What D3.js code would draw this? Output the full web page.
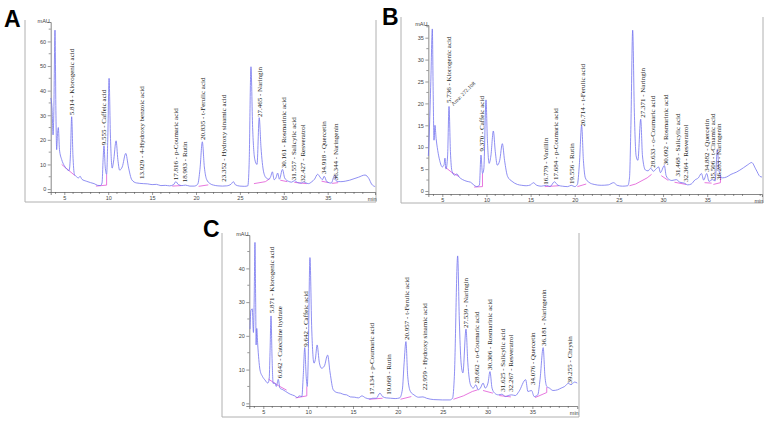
<!DOCTYPE html>
<html><head><meta charset="utf-8">
<script src="https://cdn.jsdelivr.net/npm/d3@7/dist/d3.min.js"></script>
<style>body{margin:0;background:#fff;} svg{display:block;}</style>
</head><body>
<svg id="chart" width="767" height="421"></svg>
<script>
// ---------- DATA (time in min, signal in mAU) ----------
const traceA = [[3.45,37],[3.6,33],[3.72,22],[3.8,30],[3.94,64.6],[4.05,30],[4.13,16],[4.22,22],[4.32,25],[4.45,16],[4.7,12],[5.0,9.5],[5.3,8],[5.55,7.5],[5.7,14],[5.84,29.4],[5.98,14],[6.15,6],[6.4,5],[6.6,4.5],[6.8,5.2],[7.0,4],[7.5,3.2],[8.0,2.6],[8.4,2.2],[8.8,1.5],[9.1,1.4],[9.3,2.5],[9.42,12],[9.52,17.6],[9.66,9],[9.82,6],[9.95,20],[10.1,45],[10.25,22],[10.45,8.5],[10.6,11],[10.9,19.6],[11.1,12],[11.3,7.7],[11.6,9],[12.0,14.5],[12.3,9],[12.7,3.7],[13.2,2.5],[14,2.2],[14.5,2.1],[15,1.8],[15.5,1.9],[16,1.4],[16.5,1.5],[17.0,1.3],[17.45,1.8],[17.7,3],[18.0,1.8],[18.4,1.4],[18.8,1.6],[19.3,1.2],[19.8,1.2],[20.2,2],[20.45,8],[20.72,19.2],[20.95,9],[21.2,4],[21.6,2.2],[22.0,1.6],[22.5,1.3],[23.0,1.2],[23.5,1.3],[24.0,2],[24.25,3],[24.5,1.7],[25.0,1.2],[25.5,1.1],[25.9,1.3],[26.05,10],[26.26,49.7],[26.45,25],[26.7,12],[26.95,10],[27.2,29],[27.4,17],[27.7,7],[28.0,4.5],[28.3,4],[28.5,5],[28.7,7],[28.9,3.8],[29.1,4.5],[29.3,6.5],[29.5,4],[29.85,8],[30.1,4.5],[30.5,3.2],[30.9,2.8],[31.2,3.4],[31.6,2.6],[32.0,2.4],[32.2,2.9],[32.8,2.2],[33.2,3.0],[33.5,4.0],[33.85,6],[34.2,4.5],[34.4,3.8],[34.6,5.2],[34.9,3],[35.4,2.4],[35.8,5.7],[36.0,3.2],[36.5,3],[37.0,3.2],[37.5,3.6],[38.0,4.2],[38.5,4.8],[39.25,5.7],[39.7,4.2],[40.0,2],[40.4,1]];
const traceB = [[3.42,8],[3.55,14.6],[3.7,25],[3.87,37],[3.97,22],[4.06,11.6],[4.17,15],[4.3,12],[4.48,9.3],[4.7,7],[5.0,5.5],[5.2,6],[5.3,7.5],[5.42,5],[5.6,8],[5.76,19.3],[5.92,9],[6.1,4.5],[6.4,3.6],[6.65,3.9],[6.9,3.2],[7.3,2.6],[7.8,2.2],[8.2,2],[8.5,1.5],[8.9,1.0],[9.2,1.3],[9.38,8.2],[9.55,4],[9.7,5],[9.95,20.8],[10.1,12],[10.3,6.3],[10.5,8],[10.78,13.7],[11.0,9],[11.23,5.9],[11.5,7],[11.8,10.8],[12.05,7],[12.4,3.3],[12.9,2.2],[13.5,1.5],[14.0,1.3],[14.5,1.2],[15.0,1.4],[15.3,1.9],[15.7,1.3],[16.2,1.1],[16.8,1.3],[17.2,1.0],[17.7,2.1],[18.1,1.3],[18.6,1.1],[19.2,1.0],[19.6,1.3],[20.0,1.0],[20.3,1.5],[20.52,6],[20.78,15],[20.98,7],[21.2,3],[21.6,2],[22.2,1.5],[23.0,1.3],[23.8,1.4],[24.4,1.9],[24.8,1.3],[25.4,1.1],[26.0,1.2],[26.2,3],[26.36,15],[26.56,36.7],[26.75,18],[26.95,8],[27.15,7],[27.47,16.4],[27.67,8],[28.0,4.8],[28.3,4.6],[28.6,5.2],[28.9,4.5],[29.2,5],[29.5,5.5],[29.7,4.2],[30.15,5.8],[30.35,3.5],[30.7,2.6],[31.0,2.4],[31.5,2.6],[31.9,2.0],[32.4,1.8],[32.8,1.4],[33.2,1.6],[33.6,2.5],[34.0,3],[34.35,4.0],[34.6,2.5],[34.95,4],[35.2,2.2],[35.6,2.6],[35.9,2.3],[36.15,9.5],[36.35,4.5],[36.7,3],[37.2,3.2],[37.7,3.8],[38.3,4.3],[39.1,5.3],[39.6,6],[40.04,6.5],[40.5,5],[41.0,3.3],[41.2,3.2]];
const traceC = [[3.52,22],[3.62,27.6],[3.77,28],[3.9,21],[3.98,30],[4.07,47.7],[4.15,30],[4.2,17.3],[4.27,22.2],[4.38,17.3],[4.5,13],[4.63,9.9],[4.9,8],[5.19,6.9],[5.5,6],[5.65,7],[5.75,15],[5.86,25.9],[5.97,14],[6.1,5.9],[6.3,6],[6.45,5],[6.67,7.1],[6.85,4.5],[7.2,4],[7.5,3.5],[8.0,2.7],[8.5,2.2],[8.8,1.7],[9.0,2.2],[9.3,2.0],[9.45,8],[9.62,16.5],[9.78,8],[9.9,5],[10.0,12],[10.2,43.2],[10.4,22],[10.65,11.9],[10.8,13],[11.0,17.3],[11.25,12],[11.5,10.4],[11.8,11],[12.17,14.3],[12.45,9],[12.8,4],[13.2,3.2],[13.6,3],[14.0,2.6],[14.3,2.5],[14.7,1.9],[15.2,1.8],[15.6,1.6],[16.0,2.2],[16.4,1.6],[16.9,1.3],[17.2,1.5],[17.6,1.5],[18.0,3],[18.3,2],[18.7,1.6],[19.2,1.5],[19.7,1.4],[20.2,1.6],[20.5,4],[20.7,12],[20.9,18.3],[21.1,8],[21.4,3.5],[21.8,2.5],[22.3,1.8],[22.8,1.9],[23.2,1.5],[24,1.1],[25,1.0],[25.8,1.0],[26.1,1.5],[26.3,8],[26.67,43.7],[26.85,25],[27.05,12],[27.25,9],[27.6,22],[27.8,12],[28.1,5.5],[28.4,4.5],[28.7,5.5],[28.95,4],[29.2,4.5],[29.5,6],[29.75,4.5],[30.05,6],[30.27,9.4],[30.5,4.5],[30.8,3],[31.2,2.5],[31.6,2.7],[32.0,2.0],[32.3,2.3],[32.7,2.5],[33.1,2.3],[33.5,3.5],[34.25,7],[34.5,3.5],[34.9,3.8],[35.2,2],[35.6,2.5],[35.85,7],[36.2,16.5],[36.4,8],[36.6,5],[36.9,4.5],[37.3,3.8],[37.8,4],[38.2,4.5],[38.6,5],[39.0,5.9],[39.3,5.5],[39.7,6.3],[40.0,6]];

const baseA = [[[4.7,10],[6.2,5.5]],[[8.6,1.2],[9.82,1.6],[9.82,6]],[[17.3,1.2],[18.3,1.4]],[[20.3,1.1],[21.4,1.7]],[[26.6,2.2],[27.9,3.0],[28.4,4.2]],[[29.6,3.6],[30.4,3.0]],[[31.2,2.7],[32.6,2.2]],[[34.3,3.2],[35.1,2.6]],[[35.5,2.3],[36.2,2.6]]];
const baseB = [[[5.3,5.5],[6.1,4.2],[6.9,3.3]],[[8.6,0.9],[9.55,1.0],[9.55,4]],[[16.6,1.0],[18.2,1.2]],[[20.3,1.0],[21.3,1.6]],[[26.2,1.2],[26.9,1.6],[28.2,3.0],[28.7,3.8]],[[29.8,3.5],[30.6,2.4]],[[31.3,2.0],[32.6,1.5]],[[34.7,1.9],[35.5,1.8]],[[35.7,1.5],[36.5,1.9],[36.5,3.5]]];
const baseC = [[[5.56,7.2],[6.7,5.2],[7.6,3.9]],[[8.6,1.6],[9.85,2.2],[9.85,5]],[[16.8,1.2],[18.3,1.5]],[[20.3,1.2],[21.5,2.0]],[[26.2,1.2],[27.3,2.2],[28.3,3.5],[28.9,4.0]],[[29.5,3.8],[30.6,3.0]],[[31.3,2.3],[32.6,1.9]],[[35.3,1.7],[36.6,3.2],[36.6,4.8]]];

// peak labels: retention time text, compound, anchor time, anchor signal
const labelsA = [
  ["5.814","Klorogenic acid",5.84,30.0],["9.555","Caffeic acid",9.52,17.8],["13.929","4-Hydroxy benzoic acid",13.82,4.1],
  ["17.816","p-Coumaric acid",17.69,3.6],["18.983","Rutin",18.75,2.8],["20.835","t-Ferulic acid",20.72,19.9],
  ["23.352","Hydroxy sinamic acid",23.11,3.0],["27.465","Naringin",27.29,29.3],["30.161","Rosmarinic acid",29.94,8.5],
  ["31.557","Salicylic acid",31.16,3.6],["32.427","Resveratrol",32.15,3.0],["34.918","Quercetin",34.58,6.1],["36.344","Naringenin",35.91,3.6]];
const labelsB = [
  ["5.736","Klorogenic acid",5.68,20.1],["9.370","Caffeic acid",9.46,9.0],["16.779","Vanillin",16.71,1.4],
  ["17.684","p-Coumaric acid",17.84,2.5],["19.556","Rutin",19.65,1.6],["20.714","t-Ferulic acid",20.85,14.7],
  ["27.371","Naringin",27.65,16.7],["28.633","o-Coumaric acid",28.78,5.3],["30.092","Rosmarinic acid",30.30,5.9],
  ["31.468","Salicylic acid",31.61,3.3],["32.364","Resveratrol",32.57,2.1],["34.882","Quercetin",34.94,4.4],
  ["35.506","t-Cinamic acid",35.58,2.5],["36.283","Naringenin",36.34,2.5]];
const areaNoteB = ["Area: 272.108",6.25,19.4];
const labelsC = [
  ["5.871","Klorogenic acid",5.94,26.7],["6.642","Catechine hydrate",6.78,7.4],["9.642","Caffeic acid",9.73,16.8],
  ["17.134","p-Coumaric acid",17.08,2.5],["19.068","Rutin",18.94,2.5],["20.957","t-Ferulic acid",20.99,18.8],
  ["22.959","Hydroxy sinamic acid",22.95,3.9],["27.539","Naringin",27.60,22.3],["28.662","o-Coumaric acid",28.79,5.9],
  ["30.306","Rosmarinic acid",30.27,9.9],["31.625","Salicylic acid",31.64,3.4],["32.267","Resveratrol",32.58,3.4],
  ["34.076","Quercetin",35.03,5.4],["36.181","Naringenin",36.29,17.0],["39.255","Chrysin",39.11,5.9]];

const xTicks = [5,10,15,20,25,30,35];
const yTicksA = [0,10,20,30,40,50,60];
const yTicksB = [0,5,10,15,20,25,30,35];
const yTicksC = [0,10,20,30,40];

// ---------- LAYOUT ----------
const panels = [
  {letter:"A", lx:4, ly:27, trace:traceA, base:baseA, labels:labelsA, yTicks:yTicksA, yMinor:5,
   tDom:[3.45,40.4], p5:64.3, kx:8.78, vDom:[-1.2,67.9], yRange:[192,22], frame:[25,20,376,202]},
  {letter:"B", lx:382, ly:25, trace:traceB, base:baseB, labels:labelsB, yTicks:yTicksB, yMinor:2.5,
   tDom:[3.42,41.2], p5:442.3, kx:8.83, vDom:[-0.685,37.9], yRange:[194,25], frame:[401,17,763,203]},
  {letter:"C", lx:203, ly:237, trace:traceC, base:baseC, labels:labelsC, yTicks:yTicksC, yMinor:5,
   tDom:[3.44,40.0], p5:263.3, kx:8.97, vDom:[-0.8,49.9], yRange:[406,235], frame:[222,233,579,417]}
];

const svg = d3.select("#chart");
svg.append("rect").attr("width",767).attr("height",421).attr("fill","#fff");

panels.forEach(P => {
  const g = svg.append("g");
  const x = d3.scaleLinear().domain(P.tDom)
     .range([P.p5 + (P.tDom[0]-5)*P.kx, P.p5 + (P.tDom[1]-5)*P.kx]);
  const y = d3.scaleLinear().domain(P.vDom).range(P.yRange);
  const [fx0,fy0,fx1,fy1] = P.frame;
  g.append("path").attr("d",`M${fx0},${fy0}V${fy1}H${fx1}V${fy0}`)
    .attr("fill","none").attr("stroke","#b0b0b0").attr("stroke-width",1);
  g.append("text").attr("x",P.lx).attr("y",P.ly).text(P.letter)
    .attr("font-family","Liberation Sans, Arial, sans-serif").attr("font-weight","bold")
    .attr("font-size",23).attr("fill","#000");

  const x0 = x.range()[0], x1 = x.range()[1];
  const yb = P.yRange[0], yt = P.yRange[1];
  const xAxis = d3.axisBottom(x).tickValues(xTicks).tickSize(3).tickPadding(1).tickFormat(d3.format("d"));
  const xa = g.append("g").attr("transform",`translate(0,${yb})`).call(xAxis);
  const minorX = d3.range(Math.ceil(P.tDom[0]), P.tDom[1]+0.001, 1).filter(t => t%5!==0);
  xa.selectAll("line.minor").data(minorX).join("line").attr("class","minor")
    .attr("x1",d=>x(d)).attr("x2",d=>x(d)).attr("y1",0).attr("y2",2).attr("stroke","#555").attr("stroke-width",0.6);
  const yAxis = d3.axisLeft(y).tickValues(P.yTicks).tickSize(3).tickPadding(1.5).tickFormat(d3.format("d"));
  const ya = g.append("g").attr("transform",`translate(${x0},0)`).call(yAxis);
  const minorY = d3.range(0, P.vDom[1], P.yMinor).filter(v => !P.yTicks.includes(v));
  ya.selectAll("line.minor").data(minorY).join("line").attr("class","minor")
    .attr("x1",-2).attr("x2",0).attr("y1",d=>y(d)).attr("y2",d=>y(d)).attr("stroke","#555").attr("stroke-width",0.6);
  [xa,ya].forEach(a => {
    a.select(".domain").attr("stroke","#555").attr("stroke-width",0.7);
    a.selectAll(".tick line").attr("stroke","#555").attr("stroke-width",0.6);
    a.selectAll("text").attr("font-family","Liberation Sans, Arial, sans-serif").attr("font-size",5.5).attr("fill","#444");
  });
  g.append("text").attr("x",x0-7).attr("y",yt+1).attr("text-anchor","middle").text("mAU")
    .attr("font-family","Liberation Sans, Arial, sans-serif").attr("font-size",5.5).attr("fill","#444");
  g.append("text").attr("x",x1-3).attr("y",yb+9).attr("text-anchor","middle").text("min")
    .attr("font-family","Liberation Sans, Arial, sans-serif").attr("font-size",5.5).attr("fill","#444");

  const lin = d3.line().x(d=>x(d[0])).y(d=>y(d[1]));
  g.selectAll("path.base").data(P.base).join("path").attr("class","base")
    .attr("d",lin).attr("fill","none").attr("stroke","#e35fd8").attr("stroke-width",0.85);
  const line = d3.line().x(d=>x(d[0])).y(d=>y(d[1])).curve(d3.curveMonotoneX);
  g.append("path").datum(P.trace).attr("d",line).attr("fill","none")
    .attr("stroke","#7272ef").attr("stroke-width",0.8).attr("stroke-linejoin","round");
  g.selectAll("text.lbl").data(P.labels).join("text").attr("class","lbl")
    .attr("transform",d=>`translate(${x(d[2])},${y(d[3])}) rotate(-90)`)
    .attr("dy","0.33em").attr("text-anchor","start")
    .attr("font-family","Liberation Serif, Times New Roman, serif").attr("font-size",7).attr("fill","#222")
    .text(d=>`${d[0]} - ${d[1]}`);
  if (P.letter === "B") {
    g.append("text").attr("transform",`translate(${x(areaNoteB[1])},${y(areaNoteB[2])}) rotate(-45)`)
      .attr("font-family","Liberation Serif, Times New Roman, serif").attr("font-size",5.5).attr("fill","#222")
      .text(areaNoteB[0]);
  }
});
</script>
</body></html>
